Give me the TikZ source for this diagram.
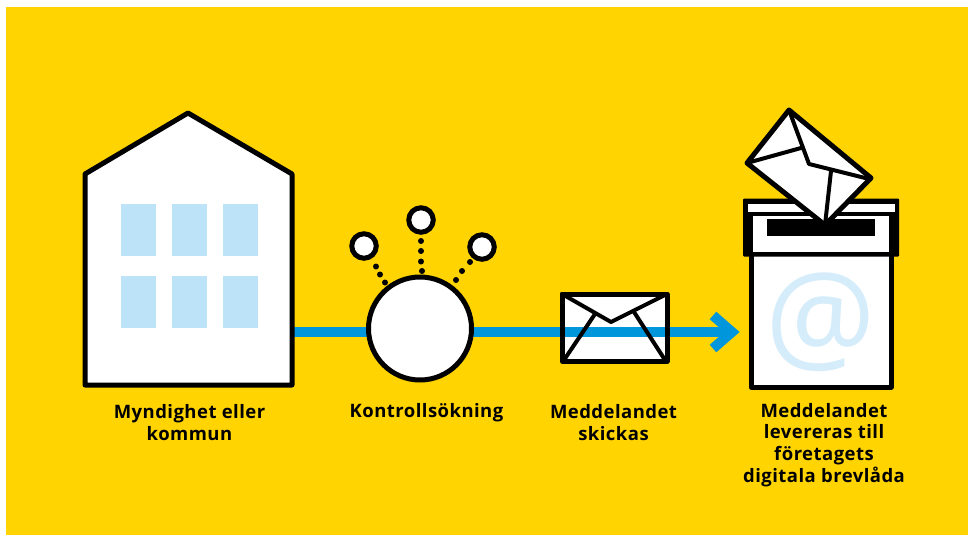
\documentclass[tikz,border=0pt]{standalone}
\usepackage{fontspec}
\newfontfamily\lblfont{Open Sans}[LetterSpace=2.5]
\definecolor{bgy}{RGB}{255,212,0}
\definecolor{blu}{RGB}{0,150,220}
\definecolor{win}{RGB}{189,227,249}
\definecolor{atc}{RGB}{213,236,250}
\tikzset{
  outline/.style={draw=black,line width=5pt,fill=white,line join=round},
  inner/.style={draw=black,line width=4pt,line join=round,line cap=round},
  pane/.style={fill=win,draw=none},
  dotc/.style={draw=none,fill=black,circle,minimum size=6pt,inner sep=0pt},
  ring/.style={draw=black,line width=5pt,fill=white,circle,minimum size=24.5pt,inner sep=0pt},
  lbl/.style={align=center,font=\lblfont\fontsize{18.5}{21.8}\selectfont\bfseries,text=black,inner sep=0pt}
}
\begin{document}
\begin{tikzpicture}[x=1pt,y=-1pt]
\useasboundingbox (0,0) rectangle (968,535);
\fill[white] (0,0) rectangle (968,535);
\fill[bgy] (6,7) rectangle (968,535);
% envelope paper under the flow line
\fill[white] (562,294) rectangle (667,361);
% flow line
\coordinate (flowstart) at (290,332);
\coordinate (flowend) at (724,332);
\draw[blu,line width=10pt] (flowstart) -- (flowend);
\draw[blu,line width=10pt,miter limit=10] (713,315.5) -- (732,332) -- (713,348.5);
% building
\draw[outline] (85,385) -- (85,174) -- (188,113) -- (292,174) -- (292,385) -- cycle;
\foreach \x in {121,172,223}{
  \foreach \y in {204,276}{
    \fill[pane] (\x,\y) rectangle ++(35,52);
  }
}
% search
\node[outline,circle,minimum size=103pt,inner sep=0pt] (hub) at (420,328.5) {};
\node[ring] (r1) at (364,246) {};
\node[ring] (r2) at (421,220) {};
\node[ring] (r3) at (482,247) {};
\foreach \p in {(376,266.5),(380,274.5),(385,282.5),(421,241),(421,251),(421,261.5),(422,271),(456,280),(462,271),(470,262)}{
  \node[dotc] at \p {};
}
% envelope
\draw[outline,fill=none] (562,294) rectangle (667,361);
\draw[inner] (562,294) -- (611,322) -- (667,294);
\draw[inner] (564,360) -- (595,314);
\draw[inner] (665,360) -- (634,312);
% mailbox
\draw[outline] (751,250) rectangle (891,387);
\node[font=\fontsize{123}{123}\selectfont,text=atc,inner sep=0pt] (at) at (821,322) {\lblfont @};
\fill[black,rounded corners=1pt] (743,198.5) rectangle (899,256.5);
\fill[white] (747.5,203.5) rectangle (894.5,212);
\fill[white] (753,215.5) rectangle (889,251.5);
\fill[black] (767,219) rectangle (875,236);
% tilted envelope
\draw[outline] (789,110) -- (871,178) -- (825,225) -- (747,163) -- cycle;
\draw[inner] (747,163) -- (801,148);
\draw[inner] (789,110) -- (809,164) -- (869,179);
\draw[inner] (831,171) -- (825,225);
% labels
\node[lbl] (l1) at (189.5,422.5) {Myndighet eller\\kommun};
\node[lbl] (l2) at (426.5,413) {Kontrollsökning};
\node[lbl] (l3) at (613.5,422.5) {Meddelandet\\skickas};
\node[lbl] (l4) at (824,445) {Meddelandet\\levereras till\\företagets\\digitala brevlåda};
\end{tikzpicture}
\end{document}
